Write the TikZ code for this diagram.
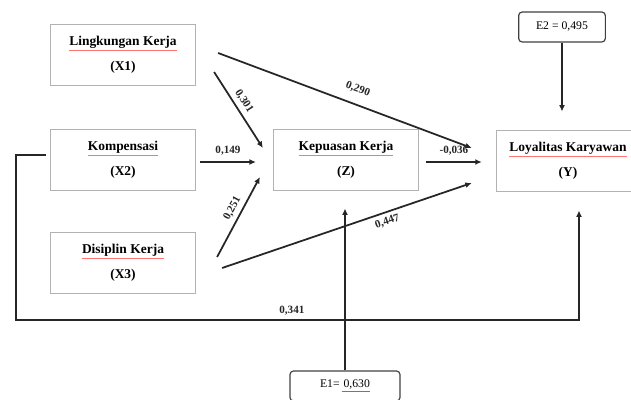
\documentclass[tikz,border=0pt]{standalone}
\usepackage{fontspec}
\setmainfont{Liberation Serif}
\usetikzlibrary{arrows.meta,calc}
\newcommand\spellmark[1]{\textcolor{red!55}{\underline{\textcolor{black}{#1}}}}
\newcommand\linkmark[1]{\textcolor{blue!60}{\underline{\textcolor{black}{#1}}}}

\begin{document}
\begin{tikzpicture}[x=0.03cm,y=-0.03cm,
   var/.style={draw=gray!60,line width=1pt,minimum width=4.35cm,minimum height=1.85cm,
      align=center,font=\fontsize{11.5}{13}\selectfont\bfseries},
   err/.style={draw=black!75,line width=1pt,rounded corners=3pt,minimum height=0.9cm,
      font=\fontsize{10}{12}\selectfont},
   pathx/.style={line width=1.5pt,black!85,-{Latex[length=5.5pt,width=5pt]}},
   coef/.style={font=\fontsize{9.5}{11}\selectfont\bfseries,sloped}]
\useasboundingbox (0,0) rectangle (631,400);
\node[var] (x1) at (123,55) {\spellmark{Lingkungan Kerja}\\[8pt](X1)};
\node[var] (x2) at (123,160) {\spellmark{Kompensasi}\\[8pt](X2)};
\node[var] (x3) at (123,263) {\spellmark{Disiplin Kerja}\\[8pt](X3)};
\node[var] (z) at (346,160) {\spellmark{Kepuasan Kerja}\\[8pt](Z)};
\node[var,minimum width=4.3cm] (y) at (568,161) {\spellmark{Loyalitas Karyawan}\\[8pt](Y)};
\node[err,minimum width=2.6cm] (e2) at (562,27) {E2 = 0,495};
\node[err,minimum width=3.3cm] (e1) at (345,386) {E1=\,\linkmark{\,0,630}};
\draw[pathx] ($(x1.east)+(22,-2)$) -- node[coef,above=5pt,pos=0.53] {0,290} ($(y.west)+(-24,-13)$);
\draw[pathx] ($(x1.east)+(18,17)$) -- node[coef,above,pos=0.45] {0,301} ($(z.west)+(-10,-12)$);
\draw[pathx] ($(x2.east)+(4,2)$) -- node[coef,above=2pt] {0,149} ($(z.west)+(-17,2)$);
\draw[pathx] ($(x3.east)+(21,-6)$) -- node[coef,above,pos=0.55] {0,251} ($(z.west)+(-13,17)$);
\draw[pathx] ($(x3.east)+(26,5)$) -- node[coef,below,pos=0.65] {0,447} ($(y.west)+(-24,22)$);
\draw[pathx] ($(z.east)+(7,2)$) -- node[coef,above=2pt] {-0,036} ($(y.west)+(-14,1)$);
\draw[pathx] (e2.south) -- ($(y.north)+(-6,-18)$);
\draw[pathx] (e1.north) -- ($(z.south)+(-1,17)$);
\draw[pathx] ($(x2.west)+(-4,-5)$) -| (16,320) -- node[coef,above,pos=0.49] {0,341} (579,320) -- ($(y.south)+(11,18)$);
\end{tikzpicture}
\end{document}
